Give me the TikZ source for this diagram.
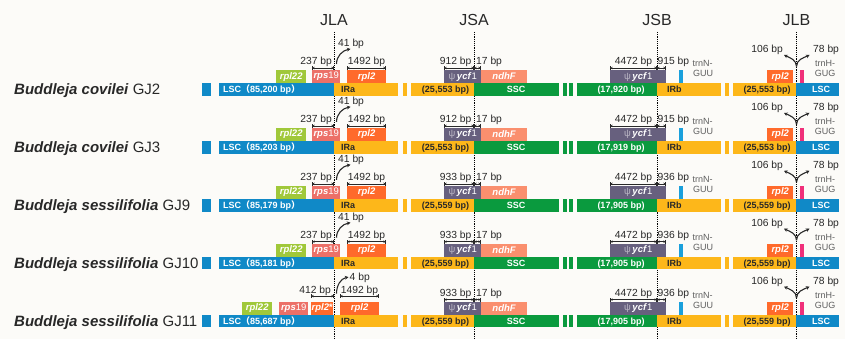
\documentclass[tikz,border=0pt]{standalone}
\usepackage{fontspec}
\setmainfont{Liberation Sans}
\newfontfamily\cjkfont{Noto Sans CJK SC}
\usetikzlibrary{arrows.meta}

% palette
\definecolor{bgpaper}{RGB}{252,251,248}
\definecolor{lscblue}{RGB}{16,137,199}
\definecolor{iryellow}{RGB}{253,183,26}
\definecolor{sscgreen}{RGB}{10,154,62}
\definecolor{rplgreen}{RGB}{160,200,58}
\definecolor{rpssalmon}{RGB}{236,112,104}
\definecolor{rplorange}{RGB}{255,106,43}
\definecolor{ycfslate}{RGB}{103,96,126}
\definecolor{ndhpeach}{RGB}{250,143,110}
\definecolor{trnblue}{RGB}{26,160,220}
\definecolor{trnpink}{RGB}{240,48,122}
\definecolor{txtdark}{RGB}{40,40,40}
\definecolor{trngray}{RGB}{95,95,95}

\newcommand\fsz[1]{\fontsize{#1}{#1}\selectfont}
\newcommand\lpar{{\cjkfont （}}
\newcommand\rpar{{\cjkfont ）}}
\newcommand\psiycf{{\mdseries\color{white!55!ycfslate}ψ}\,\textit{ycf}{\mdseries 1}}

\tikzset{
  seg/.style={rectangle, fill=#1, draw=none, minimum height=12.4pt, inner sep=0pt, anchor=west},
  gene/.style={rectangle, fill=#1, draw=none, minimum height=13.2pt, inner sep=0pt,
    anchor=west, text=white, font=\fsz{9.5}\bfseries},
  barlight/.style={text=white, font=\fsz{9}\bfseries, inner sep=0pt},
  bardark/.style={text=txtdark, font=\fsz{9}\bfseries, inner sep=0pt},
  bplabel/.style={text=txtdark, font=\fsz{10.3}, inner sep=0pt},
  dimline/.style={draw=txtdark, line width=0.6pt,
    arrows={Bar[width=4pt]Stealth[length=2pt,width=2.6pt]-Stealth[length=2pt,width=2.6pt]Bar[width=4pt]}},
  curvearrow/.style={draw=txtdark, line width=1.1pt, -{Stealth[length=3.6pt,width=3.8pt]}},
  junction/.style={draw=black, line width=0.9pt, dash pattern=on 1.2pt off 1pt},
  junctionlabel/.style={text=txtdark, font=\fsz{16}, inner sep=0pt},
  species/.style={text=txtdark, font=\fsz{15}, inner sep=0pt},
  trnlabel/.style={text=trngray, font=\fsz{9}, inner sep=0pt},
}

% one genome track: #1 index, #2 vertical shift, #3 species, #4 sample,
% #5 LSC length, #6 IR length, #7 SSC length, #8 ycf1 part in IRa, #9 ycf1 part in IRb
\newcommand\genomerow[9]{%
\begin{scope}[yshift=#2]
  \node[species, anchor=base west] (sp#1) at (14,94.5) {\textbf{\textit{#3}} #4};
  % quadripartite structure
  \node[seg=lscblue, minimum width=9pt]   (lscHead#1) at (202,89.5) {};
  \node[seg=lscblue, minimum width=115pt] (lsc#1)     at (219,89.5) {};
  \node[seg=iryellow, minimum width=64pt] (ira#1)     at (334,89.5) {};
  \node[seg=iryellow, minimum width=4pt]  (iraCut#1)  at (403,89.5) {};
  \node[seg=iryellow, minimum width=63pt] (iraEnd#1)  at (411,89.5) {};
  \node[seg=sscgreen, minimum width=85pt] (ssc#1)     at (474,89.5) {};
  \node[seg=sscgreen, minimum width=4pt]  (sscCutA#1) at (563,89.5) {};
  \node[seg=sscgreen, minimum width=4pt]  (sscCutB#1) at (569,89.5) {};
  \node[seg=sscgreen, minimum width=80pt] (sscEnd#1)  at (577,89.5) {};
  \node[seg=iryellow, minimum width=64pt] (irb#1)     at (657,89.5) {};
  \node[seg=iryellow, minimum width=4pt]  (irbCut#1)  at (725,89.5) {};
  \node[seg=iryellow, minimum width=63pt] (irbEnd#1)  at (733,89.5) {};
  \node[seg=lscblue, minimum width=43pt]  (lscEnd#1)  at (796,89.5) {};
  % region labels
  \node[barlight, anchor=base west] (lscT#1)  at (223,92.8) {LSC\lpar#5 bp\rpar};
  \node[bardark, anchor=base west]  (iraT#1)  at (341,92.8) {IRa};
  \node[bardark, anchor=base]       (iraL#1)  at (445.5,92.8) {(#6 bp)};
  \node[barlight, anchor=base]      (sscT#1)  at (516,92.8) {SSC};
  \node[barlight, anchor=base]      (sscL#1)  at (621,92.8) {(#7 bp)};
  \node[bardark, anchor=base west]  (irbT#1)  at (667,92.8) {IRb};
  \node[bardark, anchor=base]       (irbL#1)  at (767,92.8) {(#6 bp)};
  \node[barlight, anchor=base]      (lscET#1) at (821,92.8) {LSC};
  % JSA
  \node[gene=ycfslate, minimum width=37pt] (ycfA#1) at (444,76.6) {\psiycf};
  \node[gene=ndhpeach, minimum width=46pt] (ndhF#1) at (481,76.6) {\textit{ndhF}};
  \draw[dimline] (444,68) -- (474,68);
  \draw[dimline] (474,68) -- (481,68);
  \node[bplabel, anchor=base east] (jsaL#1) at (471.5,64.8) {#8 bp};
  \node[bplabel, anchor=base west] (jsaR#1) at (476,64.8) {17 bp};
  % JSB
  \node[gene=ycfslate, minimum width=56pt] (ycfB#1) at (610,76.6) {\psiycf};
  \node[gene=trnblue, minimum width=3.5pt] (trnN#1) at (679,76.6) {};
  \draw[dimline] (610,68) -- (657,68);
  \draw[dimline] (657,68) -- (666,68);
  \node[bplabel, anchor=base] (jsbL#1) at (633.5,64.8) {4472 bp};
  \node[bplabel, anchor=base west] (jsbR#1) at (657.5,64.8) {#9 bp};
  \node[trnlabel, anchor=base west] (trnNa#1) at (692.5,67) {trnN-};
  \node[trnlabel, anchor=base west] (trnNb#1) at (693,77) {GUU};
  % JLB
  \node[gene=rplorange, minimum width=26pt] (rplB#1) at (767,76.6) {\textit{rpl2}};
  \node[gene=trnpink, minimum width=4pt] (trnH#1) at (800,76.6) {};
  \coordinate (jlbFoot#1) at (796.5,66.5);
  \coordinate (jlbLeft#1) at (784,55);
  \coordinate (jlbRight#1) at (809.5,55);
  \draw[curvearrow] (jlbFoot#1) to[out=90,in=-25] (jlbLeft#1);
  \draw[curvearrow] (jlbFoot#1) to[out=90,in=205] (jlbRight#1);
  \node[bplabel, anchor=base east] (jlbL#1) at (783,53) {106 bp};
  \node[bplabel, anchor=base west] (jlbR#1) at (813,53) {78 bp};
  \node[trnlabel, anchor=base] (trnHa#1) at (825,67) {trnH-};
  \node[trnlabel, anchor=base] (trnHb#1) at (825,77) {GUG};
\end{scope}}

% JLA genes, rps19 spanning the junction
\newcommand\jlaspan[2]{%
\begin{scope}[yshift=#2]
  \node[gene=rplgreen, minimum width=30pt] (rpl22#1) at (276,76.6) {\textit{rpl22}};
  \node[gene=rpssalmon, minimum width=28pt] (rps19#1) at (312,76.6) {\textit{rps}{\mdseries 19}};
  \node[gene=rplorange, minimum width=39pt] (rpl2#1) at (347,76.6) {\textit{rpl2}};
  \draw[dimline] (312,68) -- (334,68);
  \draw[dimline] (347,68) -- (386,68);
  \node[bplabel, anchor=base east] (jlaL#1) at (332,64.8) {237 bp};
  \node[bplabel, anchor=base] (jlaR#1) at (366.5,64.8) {1492 bp};
  \coordinate (jlaFoot#1) at (336.5,64);
  \coordinate (jlaTip#1) at (350.5,49);
  \draw[curvearrow] (jlaFoot#1) to[out=90,in=190] (jlaTip#1);
  \node[bplabel, anchor=base west] (jlaG#1) at (338,46.8) {41 bp};
\end{scope}}

% JLA genes with the truncated rpl2 copy
\newcommand\jlatrunc[2]{%
\begin{scope}[yshift=#2]
  \node[gene=rplgreen, minimum width=30pt] (rpl22#1) at (242,76.6) {\textit{rpl22}};
  \node[gene=rpssalmon, minimum width=29pt] (rps19#1) at (279,76.6) {\textit{rps}{\mdseries 19}};
  \node[gene=rplorange, minimum width=22pt] (rpl2s#1) at (311,76.6) {\textit{rpl2}*};
  \node[gene=rplorange, minimum width=39pt] (rpl2#1) at (340,76.6) {\textit{rpl2}};
  \draw[dimline] (311,64.5) -- (334,64.5);
  \draw[dimline] (340,64.5) -- (379,64.5);
  \node[bplabel, anchor=base east] (jlaL#1) at (331,62) {412 bp};
  \node[bplabel, anchor=base] (jlaR#1) at (359.5,62) {1492 bp};
  \coordinate (jlaFoot#1) at (336.5,62);
  \coordinate (jlaTip#1) at (348.5,45.5);
  \draw[curvearrow] (jlaFoot#1) to[out=90,in=190] (jlaTip#1);
  \node[bplabel, anchor=base west] (jlaG#1) at (349.5,49) {4 bp};
\end{scope}}

\begin{document}
\begin{tikzpicture}[x=1pt,y=-1pt]
  \useasboundingbox (0,0) rectangle (845,339);
  \fill[bgpaper] (0,0) rectangle (845,339);

  % junction lines and their names
  \foreach \nm/\xx in {JLA/334, JSA/474, JSB/657, JLB/796.5}{
    \coordinate (top\nm) at (\xx,32);
    \coordinate (bot\nm) at (\xx,339);
    \draw[junction] (top\nm) -- (bot\nm);
    \node[junctionlabel, anchor=base] (lbl\nm) at (\xx,26) {\nm};
  }

  \genomerow{1}{0pt}{Buddleja covilei}{GJ2}{85,200}{25,553}{17,920}{912}{915}
  \jlaspan{1}{0pt}
  \genomerow{2}{-57.9pt}{Buddleja covilei}{GJ3}{85,203}{25,553}{17,919}{912}{915}
  \jlaspan{2}{-57.9pt}
  \genomerow{3}{-115.8pt}{Buddleja sessilifolia}{GJ9}{85,179}{25,559}{17,905}{933}{936}
  \jlaspan{3}{-115.8pt}
  \genomerow{4}{-173.7pt}{Buddleja sessilifolia}{GJ10}{85,181}{25,559}{17,905}{933}{936}
  \jlaspan{4}{-173.7pt}
  \genomerow{5}{-231.6pt}{Buddleja sessilifolia}{GJ11}{85,687}{25,559}{17,905}{933}{936}
  \jlatrunc{5}{-231.6pt}
\end{tikzpicture}
\end{document}
